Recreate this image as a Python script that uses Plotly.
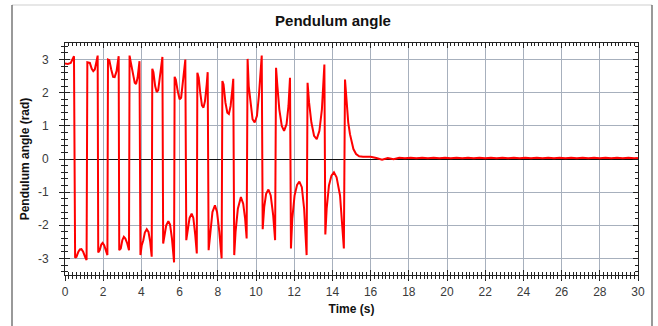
import plotly.graph_objects as go

# ---- data ----
time_s = [
    0.0, 0.15, 0.3, 0.4, 0.47,
    0.53, 0.6, 0.7, 0.78, 0.86, 0.95, 1.05, 1.13,
    1.17, 1.3, 1.4, 1.48, 1.56, 1.64, 1.71,
    1.74, 1.82, 1.9, 1.97, 2.05, 2.14, 2.22,
    2.25, 2.32, 2.42, 2.52, 2.6, 2.7, 2.76, 2.81,
    2.84, 2.92, 3.0, 3.08, 3.16, 3.26, 3.35,
    3.38, 3.45, 3.55, 3.65, 3.72, 3.8, 3.86, 3.9,
    3.95, 4.02, 4.1, 4.18, 4.28, 4.37, 4.46, 4.54,
    4.57, 4.63, 4.72, 4.8, 4.88, 4.97, 5.05, 5.1,
    5.14, 5.2, 5.3, 5.41, 5.5, 5.6, 5.71,
    5.74, 5.8, 5.9, 6.0, 6.08, 6.18, 6.26, 6.3,
    6.35, 6.42, 6.52, 6.63, 6.72, 6.82, 6.9,
    6.93, 7.0, 7.08, 7.17, 7.25, 7.33, 7.42, 7.47,
    7.52, 7.6, 7.72, 7.85, 7.96, 8.08, 8.2,
    8.24, 8.3, 8.4, 8.5, 8.58, 8.67, 8.76, 8.81,
    8.86, 8.93, 9.05, 9.21, 9.33, 9.43, 9.51,
    9.56, 9.62, 9.72, 9.82, 9.93, 10.05, 10.15, 10.24, 10.3,
    10.35, 10.43, 10.53, 10.65, 10.77, 10.9, 11.0,
    11.05, 11.12, 11.22, 11.35, 11.47, 11.6, 11.7, 11.78,
    11.83, 11.9, 12.02, 12.15, 12.27, 12.4, 12.52, 12.65,
    12.7, 12.78, 12.9, 13.04, 13.18, 13.32, 13.45, 13.58,
    13.63, 13.7, 13.82, 13.95, 14.08, 14.22, 14.4, 14.6,
    14.66, 14.75, 14.83, 14.92, 15.0, 15.1, 15.24, 15.4, 15.6, 15.8,
    16.0, 16.3, 16.6, 16.9, 17.2, 17.5, 17.8, 18.1, 18.4, 18.7,
    19.0, 19.3, 19.6, 19.9, 20.2, 20.5, 20.8, 21.1, 21.4, 21.7,
    22.0, 22.3, 22.6, 22.9, 23.2, 23.5, 23.8, 24.1, 24.4, 24.7,
    25.0, 25.3, 25.6, 25.9, 26.2, 26.5, 26.8, 27.1, 27.4, 27.7,
    28.0, 28.3, 28.6, 28.9, 29.2, 29.5, 29.8, 30.0,
]
angle_rad = [
    2.88, 2.87, 2.9, 3.0, 3.1,
    -2.98, -2.95, -2.8, -2.73, -2.72, -2.8, -2.95, -3.05,
    2.92, 2.9, 2.72, 2.65, 2.7, 2.9, 3.12,
    -2.82, -2.75, -2.58, -2.53, -2.6, -2.75, -2.9,
    3.0, 2.98, 2.7, 2.48, 2.47, 2.65, 2.9, 3.1,
    -2.75, -2.7, -2.45, -2.35, -2.4, -2.55, -2.75,
    3.12, 2.9, 2.55, 2.3, 2.26, 2.45, 2.75, 2.95,
    -2.9, -2.6, -2.45, -2.22, -2.12, -2.2, -2.5, -2.95,
    2.72, 2.62, 2.2, 2.02, 2.08, 2.45, 2.85, 3.08,
    -2.55, -2.3, -2.0, -1.88, -1.98, -2.4, -3.12,
    2.48, 2.4, 2.05, 1.8, 1.85, 2.3, 2.75, 3.0,
    -2.45, -2.1, -1.78, -1.65, -1.78, -2.3, -2.85,
    2.6, 2.45, 2.0, 1.62, 1.55, 1.75, 2.25, 2.62,
    -2.75, -2.2, -1.6, -1.4, -1.6, -2.2, -3.0,
    2.35, 2.25, 1.7, 1.4, 1.36, 1.6, 2.1, 2.42,
    -2.9, -2.2, -1.5, -1.15, -1.35, -1.8, -2.4,
    3.02, 2.2, 1.6, 1.2, 1.1, 1.3, 1.9, 2.6, 3.12,
    -2.12, -1.45, -1.05, -0.92, -1.1, -1.7, -2.45,
    2.75, 2.2, 1.5, 1.0, 0.85, 1.05, 1.6, 2.45,
    -2.7, -1.8, -1.1, -0.78, -0.68, -0.85, -1.5, -2.9,
    2.3, 1.7, 1.1, 0.7, 0.6, 0.85, 1.5, 2.85,
    -2.28, -1.5, -0.8, -0.5, -0.4, -0.55, -1.1, -2.7,
    2.4, 1.7, 1.1, 0.75, 0.5, 0.3, 0.15, 0.08, 0.07, 0.06,
    0.07, 0.03, -0.02, 0.03, -0.01, 0.04, 0.02, 0.04, 0.02, 0.04,
    0.02, 0.04, 0.02, 0.04, 0.02, 0.04, 0.02, 0.04, 0.02, 0.04,
    0.02, 0.04, 0.02, 0.04, 0.02, 0.04, 0.02, 0.04, 0.02, 0.04,
    0.02, 0.04, 0.02, 0.04, 0.02, 0.04, 0.02, 0.04, 0.02, 0.04,
    0.02, 0.04, 0.02, 0.04, 0.02, 0.04, 0.02, 0.03,
]

x_ticks = [0, 2, 4, 6, 8, 10, 12, 14, 16, 18, 20, 22, 24, 26, 28, 30]
y_ticks = [-3, -2, -1, 0, 1, 2, 3]
y_tick_text = ["-3", "-2", "-1", "0", "1", "2", "3"]

title_text = "Pendulum angle"
x_title = "Time (s)"
y_title = "Pendulum angle (rad)"

X_RANGE = [0, 30]
Y_RANGE = [-3.5, 3.5]

GRID = "#a7b0bd"
FONT = "Liberation Sans, Arial, sans-serif"
TICKFONT = dict(family=FONT, size=12, color="#3a3a3a")

fig = go.Figure()
fig.add_trace(go.Scatter(
    x=time_s, y=angle_rad, mode="lines",
    line=dict(color="#ff0000", width=2),
    hoverinfo="skip", showlegend=False,
))
# dummy trace for the overlay axes (outside tick halves)
fig.add_trace(go.Scatter(x=[None], y=[None], xaxis="x2", yaxis="y2",
                         showlegend=False, hoverinfo="skip"))

fig.update_layout(
    width=658, height=326,
    margin=dict(l=65, r=20, t=43, b=51, autoexpand=False),
    paper_bgcolor="white", plot_bgcolor="white",
    title=dict(text=f"<b>{title_text}</b>", x=333 / 658, xref="container",
               xanchor="center", y=1 - 21 / 326, yref="container", yanchor="middle",
               font=dict(family=FONT, size=15, color="#111111")),
    xaxis=dict(
        range=X_RANGE, tickvals=x_ticks, ticktext=[str(v) for v in x_ticks],
        showgrid=True, gridcolor=GRID, gridwidth=1,
        zeroline=False,
        showline=True, linecolor="#222222", linewidth=1, mirror="allticks",
        ticks="inside", ticklen=5, tickcolor="#222222",
        minor=dict(dtick=0.2, ticks="inside", ticklen=3, tickcolor="#222222", showgrid=False),
        tickfont=TICKFONT, ticklabelstandoff=6, automargin=False,
        title=dict(text=f"<b>{x_title}</b>", standoff=6,
                   font=dict(family=FONT, size=12, color="#111111")),
    ),
    yaxis=dict(
        range=Y_RANGE, tickvals=y_ticks, ticktext=y_tick_text,
        showgrid=True, gridcolor=GRID, gridwidth=1,
        zeroline=True, zerolinecolor="#111111", zerolinewidth=1,
        showline=True, linecolor="#222222", linewidth=1, mirror="allticks",
        ticks="inside", ticklen=5, tickcolor="#222222",
        minor=dict(dtick=0.2, ticks="inside", ticklen=3, tickcolor="#222222", showgrid=False),
        tickfont=TICKFONT, ticklabelstandoff=13, automargin=False,
        title=dict(text=f"<b>{y_title}</b>", standoff=5,
                   font=dict(family=FONT, size=12, color="#111111")),
    ),
    xaxis2=dict(
        overlaying="x", anchor="y", side="bottom", range=X_RANGE,
        tickvals=x_ticks, showticklabels=False, showgrid=False, zeroline=False,
        showline=False, ticks="outside", ticklen=5, tickcolor="#222222",
        minor=dict(dtick=0.2, ticks="outside", ticklen=3, tickcolor="#222222", showgrid=False),
    ),
    yaxis2=dict(
        overlaying="y", anchor="x", side="left", range=Y_RANGE,
        tickvals=y_ticks, showticklabels=False, showgrid=False, zeroline=False,
        showline=False, ticks="outside", ticklen=5, tickcolor="#222222",
        minor=dict(dtick=0.2, ticks="outside", ticklen=3, tickcolor="#222222", showgrid=False),
    ),
)

# outer frame of the surrounding panel
PW, PH = 573, 232
fig.add_shape(type="line", xref="paper", yref="paper",
              x0=(12 - 65) / PW, x1=(652 - 65) / PW,
              y0=(275 - 5) / PH, y1=(275 - 5) / PH,
              line=dict(color="#cfcfcf", width=1))
fig.add_shape(type="line", xref="paper", yref="paper",
              x0=(12 - 65) / PW, x1=(12 - 65) / PW,
              y0=(275 - 5) / PH, y1=-51 / PH,
              line=dict(color="#555555", width=1.2))
fig.add_shape(type="line", xref="paper", yref="paper",
              x0=(652 - 65) / PW, x1=(652 - 65) / PW,
              y0=(275 - 5) / PH, y1=-51 / PH,
              line=dict(color="#555555", width=1.2))

fig.write_html("out.html", config={"displayModeBar": False},
               post_script="document.body.style.margin='0';")
